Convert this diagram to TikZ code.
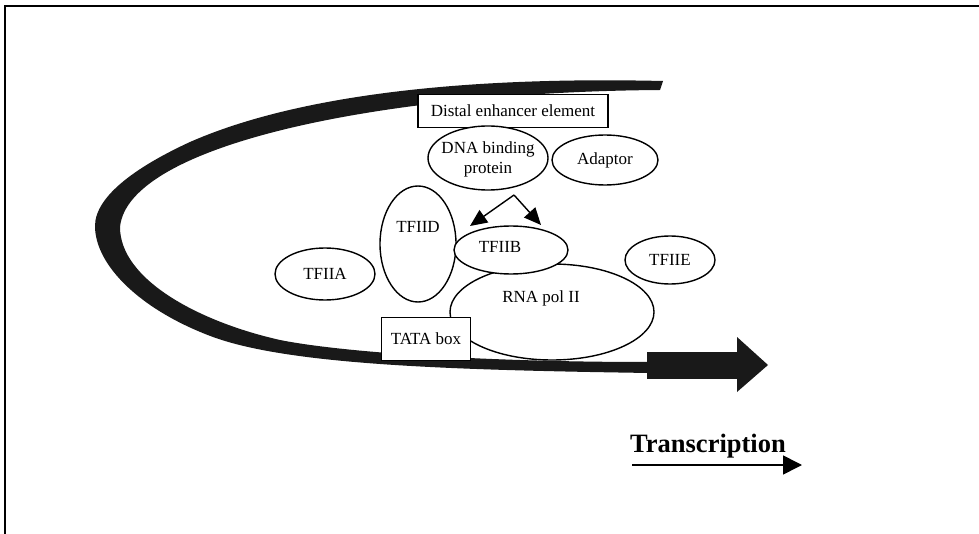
\documentclass[tikz,border=0pt]{standalone}
\usepackage{fontspec}
\setmainfont{Liberation Serif}
\usetikzlibrary{shapes.geometric,arrows.meta}
\begin{document}
\begin{tikzpicture}[x=1pt,y=-1pt,
  every node/.style={font=\fontsize{17}{19}\selectfont},
  oval/.style={ellipse,draw,line width=1.4pt,fill=white,inner sep=0pt},
  rbox/.style={rectangle,draw,line width=1.4pt,fill=white,inner sep=0pt},
  band/.style={fill=black!90},
  conn/.style={line width=1.4pt,-{Triangle[length=17pt,width=15pt]}}]
\useasboundingbox (0,0) rectangle (979,534);
\draw[line width=1.2pt] (5,540) -- (5,6) -- (985,6);
% DNA band
\fill[band] (663,81) .. controls (450,76) and (290,98) .. (190,142)
  .. controls (140,165) and (95,195) .. (95,226)
  .. controls (95,265) and (140,310) .. (213,337)
  .. controls (290,365) and (450,370) .. (650,373)
  -- (648,362) .. controls (480,362) and (340,352) .. (280,340)
  .. controls (200,322) and (120,280) .. (120,227)
  .. controls (128,145) and (380,92) .. (660,90) -- cycle;
\fill[band] (647,352) rectangle (738,379);
\fill[band] (737,337) -- (768,365) -- (737,392) -- cycle;
% nodes
\node[rbox,minimum width=190pt,minimum height=33pt] (dist) at (513,111) {};
\node at (513,111) {Distal enhancer element};
\node[oval,minimum width=120pt,minimum height=64pt] (dbp) at (488,158) {};
\node[align=center,font=\fontsize{17}{20}\selectfont] at (488,159) {DNA binding\\protein};
\node[oval,minimum width=106pt,minimum height=50pt] (adap) at (605,160) {Adaptor};
\node[oval,minimum width=204pt,minimum height=96pt] (pol) at (552,312) {};
\node at (541,298) {RNA pol II};
\node[oval,minimum width=100pt,minimum height=52pt] (tfa) at (325,274) {TFIIA};
\node[oval,minimum width=76pt,minimum height=116pt] (tfd) at (418,244) {};
\node at (418,227) {TFIID};
\node[oval,minimum width=114pt,minimum height=48pt] (tfb) at (511,250) {};
\node at (500,247) {TFIIB};
\node[oval,minimum width=90pt,minimum height=48pt] (tfe) at (670,260) {TFIIE};
\node[rbox,minimum width=89pt,minimum height=43pt] (tata) at (426,339) {TATA box};
% arrows
\coordinate (s) at (514,195);
\coordinate (t1) at (470,226);
\coordinate (t2) at (541,225);
\draw[conn] (s) -- (t1);
\draw[conn] (s) -- (t2);
% transcription
\node[font=\fontsize{26.5}{28}\selectfont\bfseries,anchor=base] (tr) at (708,452) {Transcription};
\coordinate (a1) at (632,465);
\coordinate (a2) at (802,465);
\draw[line width=1.6pt,-{Triangle[length=19pt,width=19pt]}] (a1) -- (a2);
\end{tikzpicture}
\end{document}
